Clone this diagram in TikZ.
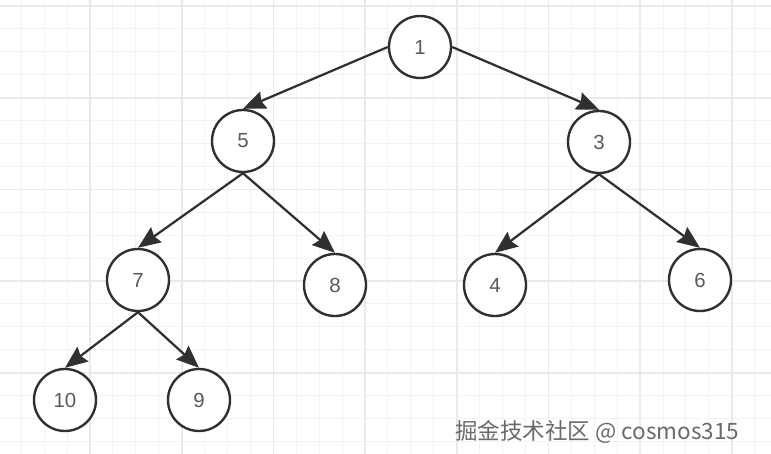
\documentclass[tikz,border=0pt]{standalone}
\usepackage{fontspec}
\setmainfont{Liberation Sans}
\newfontfamily\cjkfont{Noto Sans CJK SC}
\usetikzlibrary{arrows.meta}
\definecolor{gridminor}{HTML}{F3F3F3}
\definecolor{gridmajor}{HTML}{EAEAEA}
\definecolor{linecol}{HTML}{303030}
\definecolor{labelcol}{HTML}{5A5A5A}
\definecolor{markcol}{HTML}{6A6A6A}

\begin{document}
\begin{tikzpicture}[x=0.025cm, y=-0.025cm,
  vtx/.style={draw=linecol, line width=1.7pt, circle, minimum size=1.55cm, inner sep=0pt, fill=white, text=labelcol, font=\fontsize{14.5}{16}\selectfont},
  link/.style={-{Stealth[length=16pt, width=13pt, inset=2pt]}, draw=linecol, line width=1.6pt}]
\useasboundingbox (0,0) rectangle (771,454);
\fill[white] (0,0) rectangle (771,454);
% grid paper
\foreach \n in {0,...,33} \draw[gridminor, line width=0.7pt] ({-1.68+22.92*\n},0) -- ({-1.68+22.92*\n},454);
\foreach \n in {0,...,19} \draw[gridminor, line width=0.7pt] (0,{6+22.92*\n}) -- (771,{6+22.92*\n});
\foreach \n in {0,...,8} \draw[gridmajor, line width=1.2pt] ({-1.68+91.68*\n},0) -- ({-1.68+91.68*\n},454);
\foreach \n in {0,...,4} \draw[gridmajor, line width=1.2pt] (0,{6+91.68*\n}) -- (771,{6+91.68*\n});
% tree
\node[vtx] (n1) at (420,47) {1};
\node[vtx] (n5) at (243,141) {5};
\node[vtx] (n3) at (599,142) {3};
\node[vtx] (n7) at (138,280) {7};
\node[vtx] (n8) at (335,285) {8};
\node[vtx] (n4) at (495,285) {4};
\node[vtx] (n6) at (700,280) {6};
\node[vtx] (n10) at (65,400) {10};
\node[vtx] (n9) at (199,400) {9};
\draw[link] (n1.west) -- (n5.north);
\draw[link] (n1.east) -- (n3.north);
\draw[link] (n5.south) -- (n7.north);
\draw[link] (n5.south) -- (n8.north);
\draw[link] (n3.south) -- (n4.north);
\draw[link] (n3.south) -- (n6.north);
\draw[link] (n7.south) -- (n10.north);
\draw[link] (n7.south) -- (n9.north);
\node[anchor=west, inner sep=0pt, text=markcol, font=\cjkfont\fontsize{16}{18}\selectfont] (mark) at (455,432) {掘金技术社区 @ cosmos315};
\end{tikzpicture}
\end{document}
